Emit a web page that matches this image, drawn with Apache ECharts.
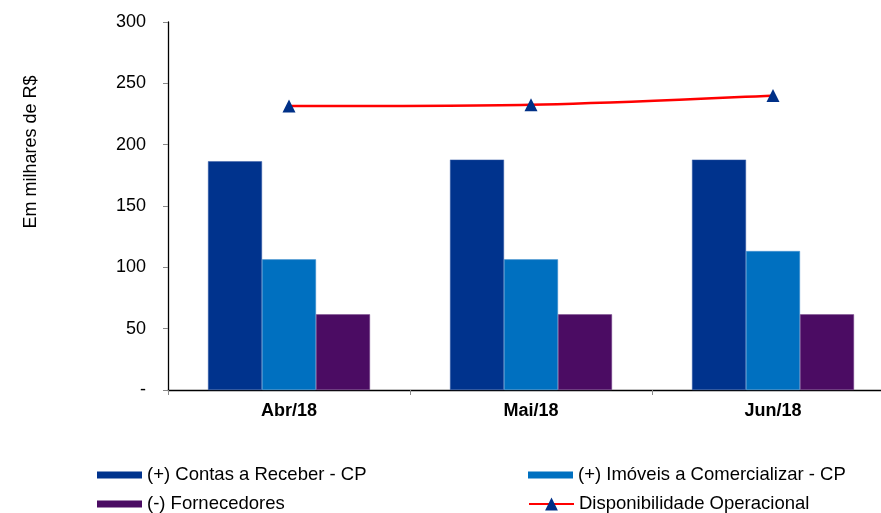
<!DOCTYPE html>
<html>
<head>
<meta charset="utf-8">
<script src="https://cdn.jsdelivr.net/npm/echarts@6/dist/echarts.min.js"></script>
<style>
html,body{margin:0;padding:0;background:#fff;overflow:hidden;}
#chart{width:894px;height:513px;}
</style>
</head>
<body>
<div id="chart"></div>
<script>
const categories = ['Abr/18', 'Mai/18', 'Jun/18'];
const contasReceber = [186.5, 187.8, 187.8];
const imoveis = [106.5, 106.5, 113.3];
const fornecedores = [61.7, 61.7, 61.7];
const disponibilidade = [231.5, 232.6, 240.0];
const yTicks = [0, 50, 100, 150, 200, 250, 300];
const seriesNames = ['(+) Contas a Receber - CP', '(+) Imóveis a Comercializar - CP', '(-) Fornecedores', 'Disponibilidade Operacional'];

const FONT = "'Liberation Sans', Arial, sans-serif";
const RECT_ICON = 'path://M0,0 L45,0 L45,7 L0,7 Z';
const legendText = { fontFamily: FONT, fontSize: 18.5, color: '#000', lineHeight: 20 };
function makeLegend(name, left, top, icon, h) {
  return {
    orient: 'horizontal',
    left: left, top: top,
    padding: 0,
    itemWidth: 45, itemHeight: h,
    textStyle: legendText,
    itemStyle: { borderWidth: 0 },
    data: [icon ? { name: name, icon: icon } : { name: name }]
  };
}
const chart = echarts.init(document.getElementById('chart'));
chart.setOption({
  animation: false,
  backgroundColor: '#ffffff',
  textStyle: { fontFamily: FONT },
  grid: { left: 168, right: 0, top: 22, bottom: 123, containLabel: false, outerBoundsMode: 'none' },
  graphic: [{
    type: 'text',
    x: 31, y: 152,
    rotation: Math.PI / 2,
    style: {
      text: 'Em milhares de R$',
      font: "18px 'Liberation Sans', Arial, sans-serif",
      fill: '#000',
      textAlign: 'center',
      textVerticalAlign: 'middle'
    }
  }],
  legend: [
    makeLegend(seriesNames[0], 97, 465, RECT_ICON, 12),
    makeLegend(seriesNames[2], 97, 494, RECT_ICON, 12),
    makeLegend(seriesNames[1], 528, 465, RECT_ICON, 12),
    makeLegend(seriesNames[3], 528, 494, null, 16)
  ],
  xAxis: {
    type: 'category',
    data: categories,
    axisLine: { show: true, lineStyle: { color: '#000', width: 1.3 } },
    axisTick: { show: true, length: 5, inside: false, interval: 0, lineStyle: { color: '#888' } },
    axisLabel: { fontFamily: FONT, fontSize: 18, fontWeight: 'bold', color: '#000', margin: 12 },
    splitLine: { show: false }
  },
  yAxis: {
    type: 'value',
    min: 0, max: 300, interval: 50,
    axisLine: { show: true, lineStyle: { color: '#000', width: 1.3 } },
    axisTick: { show: true, length: 5, lineStyle: { color: '#888' } },
    axisLabel: {
      fontFamily: FONT, fontSize: 18, color: '#000', margin: 22,
      formatter: function (v) { return v === yTicks[0] ? '-' : String(v); }
    },
    splitLine: { show: false }
  },
  series: [{
    name: seriesNames[0], type: 'bar', data: contasReceber,
    barWidth: 54, barGap: '0%',
    itemStyle: { color: '#00338D', borderColor: '#3b5fa8', borderWidth: 0.5 }
  }, {
    name: seriesNames[1], type: 'bar', data: imoveis,
    barWidth: 54, barGap: '0%',
    itemStyle: { color: '#0070C0', borderColor: '#4a95d0', borderWidth: 0.5 }
  }, {
    name: seriesNames[2], type: 'bar', data: fornecedores,
    barWidth: 54, barGap: '0%',
    itemStyle: { color: '#4B0C63', borderColor: '#7a4a8e', borderWidth: 0.5 }
  }, {
    name: seriesNames[3], type: 'line', data: disponibilidade,
    smooth: 0.3,
    symbol: 'triangle', symbolSize: 13,
    lineStyle: { color: '#FF0000', width: 2.5 },
    itemStyle: { color: '#003087' },
    z: 5
  }]
});
</script>
</body>
</html>
